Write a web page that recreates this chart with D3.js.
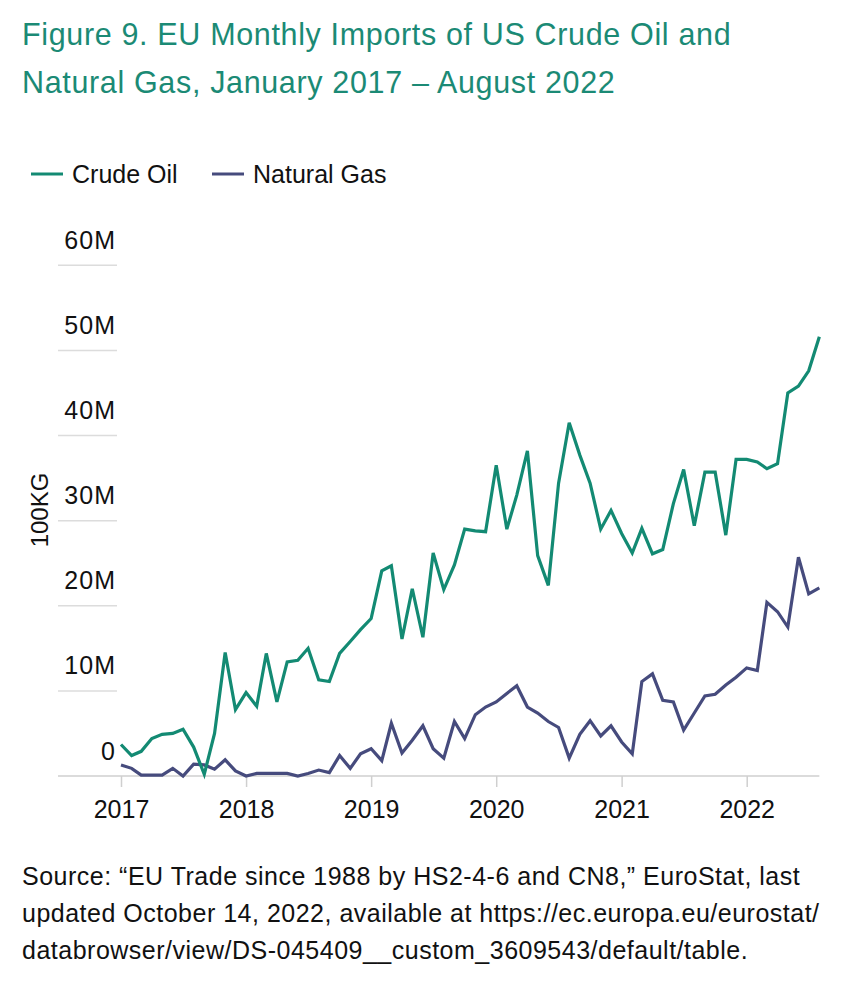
<!DOCTYPE html>
<html>
<head>
<meta charset="utf-8">
<script src="https://cdn.jsdelivr.net/npm/d3@7"></script>
<style>
  body { margin: 0; background: #fff; }
  svg { display: block; font-family: "Liberation Sans", Arial, sans-serif; }
</style>
</head>
<body>
<svg width="859" height="991"></svg>
<script>
const width = 859, height = 991;
const svg = d3.select("svg");

// monthly values, Jan 2017 – Aug 2022, in millions of 100KG
const startMonth = new Date(2017, 0, 1);
const crudeOil = [
  3.7, 2.4, 2.9, 4.4, 4.9, 5.0, 5.5, 3.4, 0.2, 5.0, 14.5, 7.8,
  9.8, 8.2, 14.4, 8.7, 13.4, 13.6, 15.0, 11.3, 11.1, 14.4, 15.8, 17.2,
  18.5, 24.1, 24.7, 16.1, 22.0, 16.3, 26.2, 21.9, 24.8, 29.0, 28.8, 28.7,
  36.5, 29.0, 33.0, 38.2, 25.9, 22.4, 34.4, 41.5, 37.7, 34.4, 29.0, 31.2,
  28.5, 26.2, 29.1, 26.1, 26.6, 32.0, 36.0, 29.4, 35.7, 35.7, 28.3, 37.2,
  37.2, 36.9, 36.1, 36.7, 45.0, 45.8, 47.6, 51.6
];
const naturalGas = [
  1.3, 0.9, 0.1, 0.1, 0.1, 0.9, 0.0, 1.4, 1.3, 0.8, 1.9, 0.6,
  0.0, 0.3, 0.3, 0.3, 0.3, 0.0, 0.3, 0.7, 0.4, 2.4, 0.9, 2.6,
  3.2, 1.8, 6.2, 2.7, 4.2, 5.9, 3.2, 2.1, 6.4, 4.4, 7.2, 8.1,
  8.7, 9.7, 10.6, 8.1, 7.4, 6.4, 5.7, 2.1, 4.9, 6.5, 4.7, 5.9,
  4.0, 2.6, 11.1, 12.0, 8.9, 8.7, 5.4, 7.4, 9.4, 9.6, 10.7, 11.6,
  12.7, 12.4, 20.4, 19.3, 17.5, 25.7, 21.4, 22.1
];
const yTicks = [0, 10, 20, 30, 40, 50, 60];
const yearTicks = [2017, 2018, 2019, 2020, 2021, 2022];
const seriesNames = ["Crude Oil", "Natural Gas"];
const colors = ["#138a73", "#464b7d"];
const titleLines = [
  "Figure 9. EU Monthly Imports of US Crude Oil and",
  "Natural Gas, January 2017 \u2013 August 2022"
];
const sourceLines = [
  "Source: \u201cEU Trade since 1988 by HS2-4-6 and CN8,\u201d EuroStat, last",
  "updated October 14, 2022, available at https://ec.europa.eu/eurostat/",
  "databrowser/view/DS-045409__custom_3609543/default/table."
];

const monthDate = i => d3.timeMonth.offset(startMonth, i);
const series = [crudeOil, naturalGas].map((vals, k) => ({
  name: seriesNames[k], color: colors[k],
  values: vals.map((v, i) => ({ date: monthDate(i), value: v }))
}));

// x: Jan 2017 at 121, Jan 2022 at 746.7
const x = d3.scaleTime().domain([new Date(2017, 0, 1), new Date(2022, 0, 1)]).range([121, 746.7]);
const y = d3.scaleLinear().domain([0, 60]).range([776, 265.3]);

// title
svg.append("g").selectAll("text").data(titleLines).join("text")
  .attr("x", 22).attr("y", (d, i) => 45 + i * 48)
  .attr("fill", "#1b8a75").style("font-size", "30.5px").style("letter-spacing", "0.65px")
  .text(d => d);

// legend
const legend = svg.append("g").selectAll("g").data(series).join("g")
  .attr("transform", (d, i) => `translate(${i === 0 ? 31 : 212},174)`);
legend.append("line").attr("x1", 0).attr("x2", 32)
  .attr("stroke", d => d.color).attr("stroke-width", 3);
legend.append("text").attr("x", 41).attr("y", 9)
  .style("font-size", "25px").attr("fill", "#111").text(d => d.name);

// y grid + labels
const yAxis = svg.append("g");
yAxis.selectAll("line").data(yTicks.filter(d => d > 0)).join("line")
  .attr("x1", 58).attr("x2", 117)
  .attr("y1", d => y(d)).attr("y2", d => y(d))
  .attr("stroke", "#dcdcdc").attr("stroke-width", 1.5);
yAxis.selectAll("text").data(yTicks).join("text")
  .attr("x", 116).attr("y", d => y(d) - 16.5)
  .attr("text-anchor", "end").style("font-size", "25px").style("letter-spacing", "1px")
  .attr("fill", "#111")
  .text(d => d === 0 ? "0" : d + "M");

svg.append("text")
  .attr("transform", "translate(48,510) rotate(-90)")
  .attr("text-anchor", "middle").style("font-size", "24px").attr("fill", "#111")
  .text("100KG");

// x axis
const xAxis = svg.append("g").attr("transform", `translate(0,${y(0)})`)
  .call(d3.axisBottom(x)
    .tickValues(yearTicks.map(yr => new Date(yr, 0, 1)))
    .tickFormat(d3.timeFormat("%Y"))
    .tickSize(11).tickPadding(13));
xAxis.select(".domain").remove();
xAxis.selectAll(".tick line").attr("stroke", "#cfcfcf").attr("stroke-width", 1.5);
xAxis.selectAll(".tick text").style("font-size", "25px").attr("fill", "#111")
  .attr("font-family", "Liberation Sans, Arial, sans-serif");
svg.append("line")
  .attr("x1", 58).attr("x2", x(monthDate(crudeOil.length - 1)))
  .attr("y1", y(0)).attr("y2", y(0))
  .attr("stroke", "#cfcfcf").attr("stroke-width", 1.5);

// lines
const line = d3.line().x(d => x(d.date)).y(d => y(d.value));
svg.append("g").selectAll("path").data(series.slice().reverse()).join("path")
  .attr("fill", "none").attr("stroke", d => d.color).attr("stroke-width", 3.2)
  .attr("stroke-linejoin", "miter").attr("d", d => line(d.values));

// source
svg.append("g").selectAll("text").data(sourceLines).join("text")
  .attr("x", 22).attr("y", (d, i) => 885 + i * 37)
  .style("font-size", "25px").style("letter-spacing", "0.5px").attr("fill", "#111")
  .text(d => d);
</script>
</body>
</html>
